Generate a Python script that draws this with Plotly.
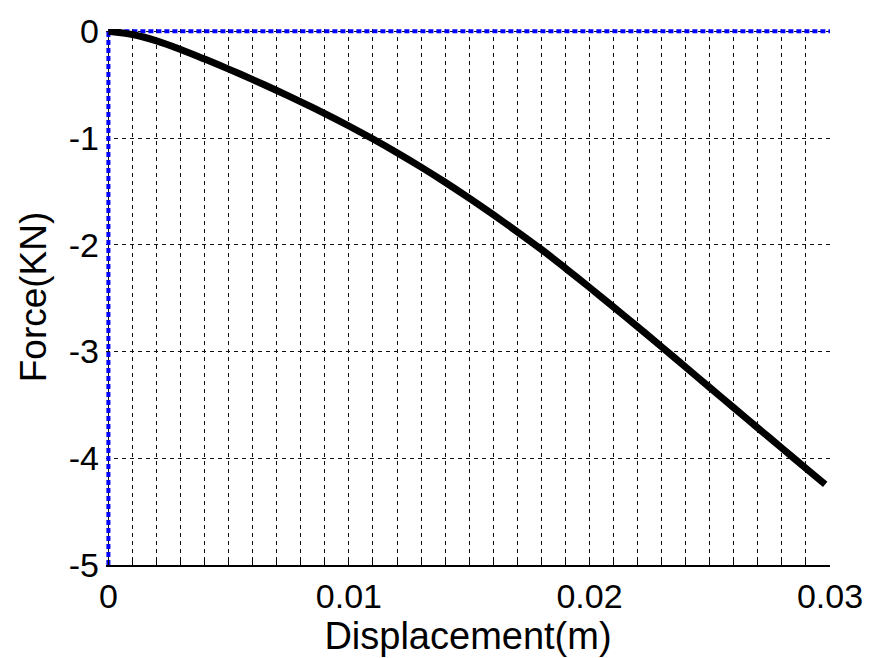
import plotly.graph_objects as go

# Force-displacement response
displacement = [0.0, 0.001, 0.002, 0.003, 0.004, 0.005, 0.006, 0.007, 0.008, 0.009,
                0.010, 0.011, 0.012, 0.013, 0.014, 0.015, 0.016, 0.017, 0.018, 0.019,
                0.020, 0.021, 0.022, 0.023, 0.024, 0.025, 0.026, 0.027, 0.028, 0.029, 0.0298]
force = [0.0, -0.03, -0.09, -0.17, -0.26, -0.354, -0.452, -0.554, -0.66, -0.771,
         -0.887, -1.009, -1.137, -1.272, -1.414, -1.563, -1.718, -1.878, -2.043, -2.219,
         -2.399, -2.582, -2.768, -2.956, -3.146, -3.337, -3.527, -3.716, -3.905, -4.095, -4.245]

# Reference lines along the zero axes
zero_x = [0.0, 0.03]
zero_y = [0.0, 0.0]
axis_x = [0.0, 0.0]
axis_y = [-5.0, 0.0]

x_ticks = [0, 0.01, 0.02, 0.03]
x_labels = ["0", "0.01", "0.02", "0.03"]
y_ticks = [0, -1, -2, -3, -4, -5]
y_labels = ["0", "-1", "-2", "-3", "-4", "-5"]

FONT = "Liberation Sans, Arial, sans-serif"
BLUE_DOT = dict(color="#0000ff", width=4, dash="5px,3px")
GRID = "#111"

fig = go.Figure()
fig.add_trace(go.Scatter(x=zero_x, y=zero_y, mode="lines", line=BLUE_DOT,
                         showlegend=False, hoverinfo="skip"))
fig.add_trace(go.Scatter(x=axis_x, y=axis_y, mode="lines", line=BLUE_DOT,
                         showlegend=False, hoverinfo="skip"))
fig.add_trace(go.Scatter(x=displacement, y=force, mode="lines",
                         line=dict(color="black", width=7, shape="spline", smoothing=0.8),
                         showlegend=False))

fig.update_layout(
    width=875, height=658,
    margin=dict(l=106, r=40, t=25, b=93),
    paper_bgcolor="white", plot_bgcolor="white",
    font=dict(family=FONT, color="black", size=34),
    xaxis=dict(
        range=[-0.0001, 0.03], tickvals=x_ticks, ticktext=x_labels,
        showline=True, linecolor="black", linewidth=1.8,
        ticks="inside", ticklen=6, tickwidth=1, tickcolor="black",
        showgrid=True, gridcolor=GRID, gridwidth=1, griddash="4px,4px",
        minor=dict(dtick=0.001, tick0=0, showgrid=True, gridcolor=GRID, gridwidth=1,
                   griddash="4px,4px", ticks="inside", ticklen=6, tickcolor="black"),
        zeroline=False, tickfont=dict(size=34),
        title=dict(text="Displacement(m)", font=dict(size=38), standoff=2),
    ),
    yaxis=dict(
        range=[-5, 0.022], tickvals=y_ticks, ticktext=y_labels,
        showline=False, ticks="", ticklabelstandoff=6,
        showgrid=True, gridcolor=GRID, gridwidth=1, griddash="4px,4px",
        zeroline=False, tickfont=dict(size=34),
        title=dict(text="Force(KN)", font=dict(size=37), standoff=10),
    ),
)

fig.write_html("out.html")
